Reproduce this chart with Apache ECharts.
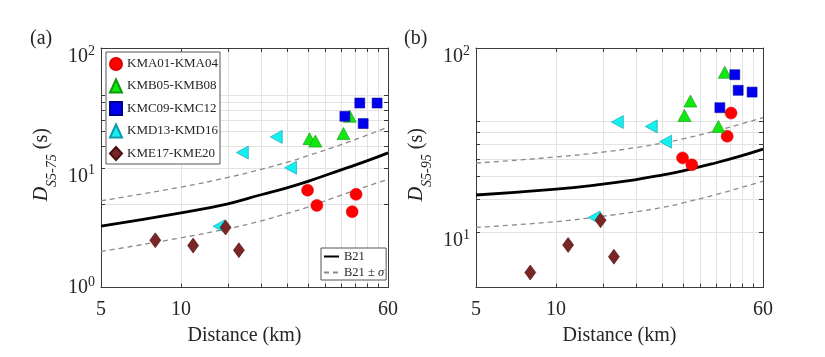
<!DOCTYPE html>
<html><head><meta charset="utf-8">
<script src="https://cdn.jsdelivr.net/npm/echarts@6/dist/echarts.min.js"></script>
<style>html,body{margin:0;padding:0;background:#fff}#c{width:825px;height:357px}</style>
</head><body><div id="c"></div>
<script>
// ---------- data ----------
const groupNames = ['KMA01-KMA04', 'KMB05-KMB08', 'KMC09-KMC12', 'KMD13-KMD16', 'KME17-KME20'];
// epicentral distance (km) per station group
const distKMA = [29.9, 32.4, 45.5, 44.0];
const distKMB = [30.4, 32.0, 40.8, 43.1];
const distKMC = [41.3, 47.0, 48.4, 54.6];
const distKMD = [13.9, 17.0, 22.8, 25.8];
const distKME = [8.0, 11.1, 14.7, 16.5];
// D_S5-75 (s)
const d575KMA = [6.5, 4.85, 6.0, 4.3];
const d575KMB = [17.5, 16.7, 19.3, 26.9];
const d575KMC = [26.9, 34.7, 23.4, 34.7];
const d575KMD = [3.25, 13.4, 18.1, 10.0];
const d575KME = [2.48, 2.24, 3.17, 2.05];
// D_S5-95 (s)
const d595KMA = [25.3, 23.2, 44.3, 33.2];
const d595KMB = [43.0, 51.5, 37.5, 73.8];
const d595KMC = [47.4, 71.6, 58.9, 57.6];
const d595KMD = [12.0, 39.6, 37.5, 31.0];
const d595KME = [6.03, 8.51, 11.6, 7.35];
// B21 model curves, read at these distances
const modelDist = [5, 10, 15, 20, 25, 30, 40, 50, 60];
const b21Med575 = [3.25, 4.2, 5.0, 5.95, 6.8, 7.7, 9.6, 11.4, 13.3];
const b21Up575  = [5.3, 6.9, 8.3, 9.7, 11.1, 12.6, 15.6, 18.7, 21.9];
const b21Lo575  = [2.0, 2.6, 3.1, 3.6, 4.15, 4.7, 5.9, 7.0, 8.0];
const b21Med595 = [15.9, 17.1, 18.2, 19.3, 20.4, 21.5, 23.8, 26.0, 28.2];
const b21Up595  = [23.7, 25.6, 27.2, 28.8, 30.4, 32.1, 35.5, 38.8, 41.8];
const b21Lo595  = [10.6, 11.4, 12.2, 12.9, 13.6, 14.4, 16.0, 17.5, 18.9];
// axis ticks / labels
const xTickValues = [5, 10, 15, 20, 25, 30, 35, 40, 45, 50, 55, 60];
const xLabelValues = [5, 10, 60];
const yTickValuesA = [1, 5, 10, 15, 20, 25, 30, 35, 40, 100];
const yLabelValuesA = [1, 10, 100];
const yTickValuesB = [5, 10, 15, 20, 25, 30, 35, 40, 100];
const yLabelValuesB = [10, 100];
const panelLabels = ['(a)', '(b)'];
const modelNames = ['B21', 'B21 ± σ'];

// ---------- build ----------
const FONT = 'Liberation Serif';
const AX = '#3a3a3a';
const GRIDC = '#e3e3e3';
const TXT = '#262626';
const PLOT_H = 239.5, PLOT_W = 287;
const pair = (xs, ys) => xs.map((x, i) => [x, ys[i]]);

const markerStyles = [
  { symbol: 'circle', symbolSize: 12, symbolRotate: 0, itemStyle: { color: '#ff0000', borderColor: '#e00000', borderWidth: 0.5, opacity: 1 } },
  { symbol: 'triangle', symbolSize: [13, 12], symbolRotate: 0, itemStyle: { color: '#14e614', borderColor: '#0a9a0a', borderWidth: 0.6, opacity: 1 } },
  { symbol: 'rect', symbolSize: 10, symbolRotate: 0, itemStyle: { color: '#0000f0', borderColor: '#00008a', borderWidth: 0.5, opacity: 1 } },
  { symbol: 'triangle', symbolSize: [13, 12], symbolRotate: 90, itemStyle: { color: '#14f0f0', borderColor: '#109aaa', borderWidth: 0.6, opacity: 1 } },
  { symbol: 'diamond', symbolSize: [11, 15], symbolRotate: 0, itemStyle: { color: '#7a2626', borderColor: '#4a1010', borderWidth: 0.6, opacity: 1 } }
];
const distGroups = [distKMA, distKMB, distKMC, distKMD, distKME];
const d575Groups = [d575KMA, d575KMB, d575KMC, d575KMD, d575KME];
const d595Groups = [d595KMA, d595KMB, d595KMC, d595KMD, d595KME];

function xAxes(grid) {
  const base = { gridIndex: grid, type: 'log', logBase: 10, min: 5, max: 60 };
  return [{
    ...base, position: 'bottom', z: 1,
    axisLine: { show: true, onZero: false, lineStyle: { color: AX, width: 1 } },
    axisTick: { show: true, inside: true, length: 4, customValues: xTickValues, lineStyle: { color: AX } },
    axisLabel: { customValues: xLabelValues, formatter: v => String(Math.round(v)), fontSize: 20, fontFamily: FONT, color: TXT, margin: 12 },
    splitLine: { show: false },
    name: 'Distance (km)', nameLocation: 'middle', nameGap: 38,
    nameTextStyle: { fontSize: 20, fontFamily: FONT, color: TXT }
  }, {
    ...base, position: 'top', z: 1,
    axisLine: { show: true, onZero: false, lineStyle: { color: AX, width: 1 } },
    axisTick: { show: true, inside: true, length: 4, customValues: xTickValues, lineStyle: { color: AX } },
    axisLabel: { show: false }, splitLine: { show: false }
  }, {
    // grid lines: full-height ticks at the reference grid positions
    ...base, position: 'bottom', z: 0,
    axisLine: { show: false },
    axisTick: { show: true, inside: true, length: PLOT_H, customValues: xTickValues, lineStyle: { color: GRIDC, width: 1 } },
    axisLabel: { show: false }, splitLine: { show: false }
  }];
}
function yAxes(grid, min, ticks, labels, sub) {
  const base = { gridIndex: grid, type: 'log', logBase: 10, min: min, max: 100 };
  return [{
    ...base, position: 'left', z: 1,
    axisLine: { show: true, onZero: false, lineStyle: { color: AX, width: 1 } },
    axisTick: { show: true, inside: true, length: 4, customValues: ticks, lineStyle: { color: AX } },
    axisLabel: {
      customValues: labels, margin: 6, fontFamily: FONT,
      formatter: v => { const e = Math.round(Math.log10(v)); return e === 0 ? '{u|10}{eu|0}' : '{b|10}{e|' + e + '}'; },
      rich: {
        b: { fontSize: 20, fontFamily: FONT, color: TXT, verticalAlign: 'top', lineHeight: 20, padding: [9, 0, 0, 0] },
        e: { fontSize: 14, fontFamily: FONT, color: TXT, verticalAlign: 'top', lineHeight: 14, padding: [6, 0, 0, 0] },
        u: { fontSize: 20, fontFamily: FONT, color: TXT, verticalAlign: 'top', lineHeight: 20, padding: [0, 0, 9, 0] },
        eu: { fontSize: 14, fontFamily: FONT, color: TXT, verticalAlign: 'top', lineHeight: 14, padding: [-2, 0, 0, 0] }
      }
    },
    splitLine: { show: false },
    name: '{d|D}{s|' + sub + '}{n| (s)}', nameLocation: 'middle', nameRotate: 90, nameGap: 47,
    nameTextStyle: {
      fontFamily: FONT, padding: [0, 0, 0, 6],
      rich: {
        d: { fontSize: 20, fontFamily: FONT, fontStyle: 'italic', color: TXT, verticalAlign: 'top', lineHeight: 22 },
        s: { fontSize: 14, fontFamily: FONT, fontStyle: 'italic', color: TXT, verticalAlign: 'top', lineHeight: 14, padding: [13, 0, 0, 0] },
        n: { fontSize: 20, fontFamily: FONT, color: TXT, verticalAlign: 'top', lineHeight: 22 }
      }
    }
  }, {
    ...base, position: 'right', z: 1,
    axisLine: { show: true, onZero: false, lineStyle: { color: AX, width: 1 } },
    axisTick: { show: true, inside: true, length: 4, customValues: ticks, lineStyle: { color: AX } },
    axisLabel: { show: false }, splitLine: { show: false }
  }, {
    ...base, position: 'left', z: 0,
    axisLine: { show: false },
    axisTick: { show: true, inside: true, length: PLOT_W, customValues: ticks, lineStyle: { color: GRIDC, width: 1 } },
    axisLabel: { show: false }, splitLine: { show: false }
  }];
}

const series = [];
function addPanel(xi, yi, med, up, lo, yGroups) {
  const dash = { color: '#8a8a8a', width: 1.3, type: [5, 4] };
  series.push({ name: modelNames[1], type: 'line', xAxisIndex: xi, yAxisIndex: yi, data: pair(modelDist, up), smooth: true, symbol: 'none',
    lineStyle: dash, itemStyle: { color: '#8a8a8a' }, z: 2 });
  series.push({ name: modelNames[1], type: 'line', xAxisIndex: xi, yAxisIndex: yi, data: pair(modelDist, lo), smooth: true, symbol: 'none',
    lineStyle: dash, itemStyle: { color: '#8a8a8a' }, z: 2 });
  series.push({ name: modelNames[0], type: 'line', xAxisIndex: xi, yAxisIndex: yi, data: pair(modelDist, med), smooth: true, symbol: 'none',
    lineStyle: { color: '#000', width: 2.8 }, itemStyle: { color: '#000' }, z: 3 });
  groupNames.forEach((g, k) => {
    const m = markerStyles[k];
    series.push({ name: g, type: 'scatter', xAxisIndex: xi, yAxisIndex: yi, data: pair(distGroups[k], yGroups[k]),
      symbol: m.symbol, symbolSize: m.symbolSize, symbolRotate: m.symbolRotate, itemStyle: m.itemStyle, z: 4 + k });
  });
}
addPanel(0, 0, b21Med575, b21Up575, b21Lo575, d575Groups);
addPanel(3, 3, b21Med595, b21Up595, b21Lo595, d595Groups);

const option = {
  animation: false,
  backgroundColor: '#fff',
  textStyle: { fontFamily: FONT },
  title: [
    { text: panelLabels[0], left: 30, top: 29, padding: 0, textStyle: { fontSize: 20, fontWeight: 'normal', fontFamily: FONT, color: TXT } },
    { text: panelLabels[1], left: 404, top: 29, padding: 0, textStyle: { fontSize: 20, fontWeight: 'normal', fontFamily: FONT, color: TXT } }
  ],
  grid: [
    { left: 101, top: 48, width: PLOT_W, height: PLOT_H },
    { left: 476, top: 48, width: PLOT_W, height: PLOT_H }
  ],
  xAxis: [...xAxes(0), ...xAxes(1)],
  yAxis: [...yAxes(0, 1, yTickValuesA, yLabelValuesA, 'S5-75'), ...yAxes(1, 5, yTickValuesB, yLabelValuesB, 'S5-95')],
  legend: [{
    data: groupNames, orient: 'vertical', left: 106, top: 52, padding: [5, 2, 3, 3],
    itemWidth: 12, itemHeight: 13, itemGap: 7.5, symbolRotate: 'inherit',
    backgroundColor: '#fff', borderColor: '#555', borderWidth: 1, borderRadius: 0,
    textStyle: { fontSize: 13, fontFamily: FONT, color: TXT }, selectedMode: false
  }, {
    data: modelNames, orient: 'vertical', left: 321, top: 248, padding: [2, 2, 1, 2],
    itemWidth: 15, itemHeight: 12, itemGap: 3,
    itemStyle: { opacity: 0 },
    backgroundColor: '#fff', borderColor: '#555', borderWidth: 1, borderRadius: 0,
    formatter: n => n === modelNames[1] ? 'B21 ± {i|σ}' : n,
    textStyle: { fontSize: 12.5, fontFamily: FONT, color: TXT, rich: { i: { fontSize: 12.5, fontFamily: FONT, fontStyle: 'italic', color: TXT } } },
    selectedMode: false
  }],
  series: series
};
const chart = echarts.init(document.getElementById('c'), null, { renderer: 'canvas' });
chart.setOption(option);
</script></body></html>
